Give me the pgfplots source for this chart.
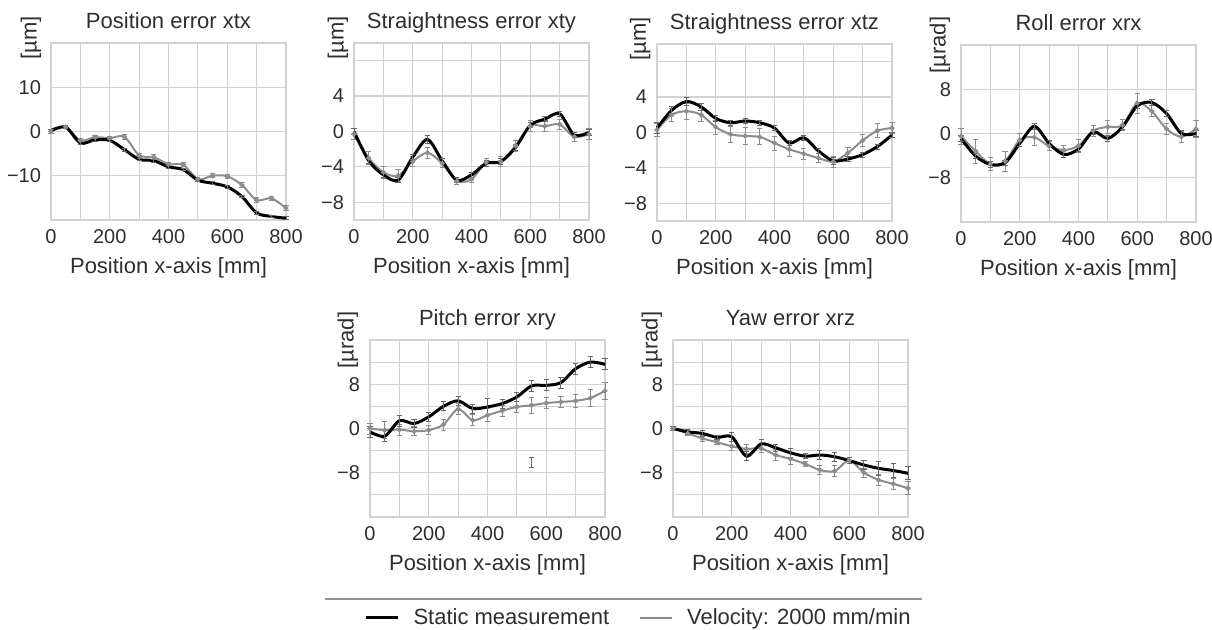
\documentclass[border=0pt]{standalone}
\usepackage{fontspec}
\setmainfont{Liberation Sans}
\usepackage{pgfplots}
\usepackage{pgfplotstable}
\pgfplotsset{compat=1.18}
\definecolor{txt}{HTML}{2E2E2E}
\definecolor{vel}{HTML}{8C8C8C}
\definecolor{grd}{HTML}{D2D2D2}
\newcommand\lbl{\fontsize{11}{13}\selectfont}
\newcommand\tck{\fontsize{10}{12}\selectfont}

\pgfplotstableread{
x s se v ve
0 0.2 0.3 0.0 0.4
50 1.0 0.3 1.0 0.4
100 -2.6 0.3 -2.0 0.4
150 -1.9 0.3 -1.3 0.4
200 -2.0 0.3 -1.5 0.4
250 -4.1 0.3 -1.2 0.5
300 -6.3 0.3 -5.4 0.5
350 -6.6 0.3 -5.8 0.5
400 -8.0 0.3 -7.4 0.5
450 -8.6 0.3 -7.5 0.5
500 -11.0 0.3 -10.8 0.5
550 -11.7 0.3 -10.0 0.5
600 -12.5 0.3 -10.1 0.5
650 -14.7 0.3 -12.1 0.5
700 -18.4 0.3 -15.5 0.5
750 -19.2 0.3 -15.1 0.5
800 -19.6 0.3 -17.3 0.6
}\tA
\pgfplotstableread{
x s se v ve
0 0.0 0.3 -0.3 0.6
50 -3.3 0.3 -3.0 0.7
100 -4.9 0.3 -4.6 0.7
150 -5.5 0.3 -5.0 0.7
200 -2.9 0.3 -3.4 0.6
250 -0.9 0.5 -2.4 0.6
300 -3.3 0.3 -3.6 0.5
350 -5.5 0.3 -5.6 0.4
400 -4.9 0.3 -5.4 0.4
450 -3.6 0.3 -3.5 0.5
500 -3.4 0.3 -3.4 0.6
550 -1.8 0.3 -1.6 0.6
600 0.7 0.3 0.6 0.6
650 1.4 0.3 0.6 0.6
700 2.0 0.3 0.8 0.6
750 -0.4 0.3 -0.6 0.5
800 -0.1 0.3 -0.3 0.6
}\tB
\pgfplotstableread{
x s se v ve
0 0.5 0.6 0.3 0.7
50 2.5 0.4 2.0 0.7
100 3.5 0.5 2.4 0.9
150 2.9 0.4 2.0 0.7
200 1.6 0.3 0.6 0.8
250 1.1 0.3 -0.2 0.9
300 1.3 0.3 -0.4 1.0
350 1.1 0.3 -0.5 0.9
400 0.5 0.3 -1.2 0.8
450 -1.2 0.3 -1.9 0.8
500 -0.6 0.3 -2.4 0.6
550 -2.1 0.3 -2.9 0.5
600 -3.2 0.4 -3.3 0.6
650 -3.0 0.3 -2.3 0.6
700 -2.5 0.3 -0.9 0.7
750 -1.6 0.3 0.2 0.8
800 -0.3 0.3 0.5 0.6
}\tC
\pgfplotstableread{
x s se v ve
0 -0.9 0.5 -0.5 1.5
50 -4.1 0.5 -3.2 2.2
100 -5.6 0.5 -5.5 1.2
150 -5.3 0.5 -5.0 1.8
200 -1.8 0.5 -1.2 1.2
250 1.3 0.5 -0.7 1.5
300 -1.8 0.5 -2.3 0.8
350 -3.8 0.5 -3.0 0.8
400 -2.8 0.5 -2.2 1.2
450 0.3 0.5 0.5 1.0
500 -0.9 0.5 1.2 1.2
550 1.2 0.5 1.5 1.0
600 5.0 0.5 5.5 1.8
650 5.6 0.5 4.0 1.0
700 3.6 0.5 0.8 1.0
750 0.0 0.5 -0.6 1.0
800 0.0 0.5 0.8 1.5
}\tD
\pgfplotstableread{
x s se v ve
0 -0.6 1.0 0.0 1.0
50 -1.4 1.0 -0.3 1.5
100 1.4 1.0 -0.2 1.0
150 0.9 0.8 -0.5 0.8
200 2.1 0.8 -0.3 0.8
250 4.0 0.8 0.7 1.0
300 5.0 0.8 3.5 1.0
350 3.6 0.8 1.5 1.0
400 3.9 1.5 2.4 1.2
450 4.5 0.8 3.2 1.0
500 5.7 0.8 3.9 1.0
550 7.7 1.0 4.2 1.5
600 7.8 1.0 4.6 1.0
650 8.3 1.0 4.8 1.0
700 10.8 1.0 5.0 1.2
750 12.0 1.0 5.5 1.5
800 11.6 1.0 6.8 1.5
}\tE
\pgfplotstableread{
x s se v ve
0 0.0 0.4 0.0 0.4
50 -0.6 0.4 -0.9 0.4
100 -0.9 0.6 -1.8 0.6
150 -1.6 0.4 -2.5 0.4
200 -1.5 0.8 -3.2 0.8
250 -5.0 0.8 -3.7 0.8
300 -2.8 0.8 -3.6 0.8
350 -3.5 0.6 -4.8 1.0
400 -4.4 0.8 -5.5 1.0
450 -5.0 0.5 -6.4 0.5
500 -4.8 0.8 -7.5 0.8
550 -5.1 0.8 -7.7 1.0
600 -5.8 0.6 -5.8 0.6
650 -6.6 0.8 -8.0 0.8
700 -7.2 1.2 -9.3 1.0
750 -7.6 1.2 -10.0 1.0
800 -8.1 1.2 -10.8 1.2
}\tF

\pgfplotsset{
  every axis title shift=0pt,
  panel/.style={
    anchor=south west, scale only axis, width=117.5pt, height=88.5pt,
    xmin=0, xmax=800,
    xtick={0,100,...,800}, xticklabels={0,,200,,400,,600,,800},
    grid=major, grid style={grd, line width=0.6pt},
    axis line style={grd, line width=0.7pt},
    major tick length=0pt,
    tick label style={font=\tck, text=txt},
    xticklabel style={anchor=base, yshift=-12pt},
    yticklabel style={xshift=-1.5pt},
    title style={at={(axis description cs:0.5,1)}, anchor=base, yshift=7pt, font=\lbl, text=txt},
    xlabel={Position x-axis [mm]},
    xlabel style={at={(axis description cs:0.5,-0.305)}, anchor=base, font=\lbl, text=txt},
    every axis y label/.style={at={(axis description cs:-0.085,1.19)}, rotate=90, anchor=east, font=\lbl, text=txt},
    clip=false,
  },
  velp/.style={vel, line width=1pt, smooth, mark=*, mark size=0.7pt, mark options={fill=vel, draw=vel},
    error bars/y dir=both, error bars/y explicit,
    error bars/error bar style={line width=0.45pt, vel},
    error bars/error mark options={rotate=90, mark size=1.3pt, line width=0.45pt, vel}},
  stap/.style={black, line width=1.5pt, smooth, mark=none,
    error bars/y dir=both, error bars/y explicit,
    error bars/error bar style={line width=0.45pt, black!60},
    error bars/error mark options={rotate=90, mark size=1.3pt, line width=0.45pt, black!60}},
}

\begin{document}
\begin{tikzpicture}
\useasboundingbox (0,0) rectangle (606pt,315pt);

% Panel 1
\begin{axis}[panel, at={(25.5pt,205pt)}, title={Position error xtx}, ylabel={[µm]},
  ymin=-20, ymax=20, ytick={-20,-10,0,10,20}, yticklabels={,−10,0,10,}]
\addplot[velp] table[x=x, y=v, y error=ve] {\tA};
\addplot[stap] table[x=x, y=s, y error=se] {\tA};
\end{axis}

% Panel 2
\begin{axis}[panel, at={(177pt,205pt)}, title={Straightness error xty}, ylabel={[µm]},
  every axis y label/.append style={at={(axis description cs:-0.068,1.19)}},
  ymin=-10, ymax=10, ytick={-8,-4,0,4,8}, yticklabels={−8,−4,0,4,}]
\addplot[velp] table[x=x, y=v, y error=ve] {\tB};
\addplot[stap] table[x=x, y=s, y error=se] {\tB};
\end{axis}

% Panel 3
\begin{axis}[panel, at={(328.5pt,204.5pt)}, title={Straightness error xtz}, ylabel={[µm]},
  every axis y label/.append style={at={(axis description cs:-0.072,1.19)}},
  ymin=-10, ymax=10, ytick={-8,-4,0,4,8}, yticklabels={−8,−4,0,4,}]
\addplot[velp] table[x=x, y=v, y error=ve] {\tC};
\addplot[stap] table[x=x, y=s, y error=se] {\tC};
\end{axis}

% Panel 4
\begin{axis}[panel, at={(480.5pt,204pt)}, title={Roll error xrx}, ylabel={[µrad]},
  every axis y label/.append style={at={(axis description cs:-0.09,1.2)}},
  ymin=-16, ymax=16, ytick={-8,0,8}, yticklabels={−8,0,8}]
\addplot[velp] table[x=x, y=v, y error=ve] {\tD};
\addplot[stap] table[x=x, y=s, y error=se] {\tD};
\end{axis}

% Panel 5
\begin{axis}[panel, at={(185pt,56.5pt)}, title={Pitch error xry}, ylabel={[µrad]},
  every axis y label/.append style={at={(axis description cs:-0.094,1.2)}},
  ymin=-16, ymax=16, ytick={-12,-8,-4,0,4,8,12}, yticklabels={,−8,,0,,8,},
  legend style={at={(axis description cs:-0.025,-0.49)}, anchor=north west, draw=none, fill=none,
    font=\lbl, text=txt, inner sep=0pt,
    /tikz/every odd column/.append style={column sep=5pt},
    /tikz/every even column/.append style={column sep=13pt}},
  legend columns=2,
  legend image code/.code={\draw[#1] (0pt,0pt) -- (16pt,0pt);}]
\addplot[velp, forget plot] table[x=x, y=v, y error=ve] {\tE};
\addplot[stap, forget plot] table[x=x, y=s, y error=se] {\tE};
\addplot[draw=none, forget plot, error bars/y dir=both, error bars/y explicit,
  error bars/error bar style={line width=0.45pt, draw=black!60},
  error bars/error mark options={rotate=90, mark size=1.3pt, line width=0.45pt, draw=black!60}]
  coordinates {(550,-6.2) +- (0,0.9)};
\addlegendimage{black, line width=1.5pt}
\addlegendentry{Static measurement}
\addlegendimage{vel, line width=1pt}
\addlegendentry{Velocity: 2000 mm/min}
\end{axis}

% Panel 6
\begin{axis}[panel, at={(336.5pt,56.5pt)}, title={Yaw error xrz}, ylabel={[µrad]},
  every axis y label/.append style={at={(axis description cs:-0.09,1.2)}},
  ymin=-16, ymax=16, ytick={-12,-8,-4,0,4,8,12}, yticklabels={,−8,,0,,8,}]
\addplot[velp] table[x=x, y=v, y error=ve] {\tF};
\addplot[stap] table[x=x, y=s, y error=se] {\tF};
\end{axis}

\draw[grd!70!black, line width=0.7pt] (162.5pt,15.5pt) -- (461pt,15.5pt);
\end{tikzpicture}
\end{document}
